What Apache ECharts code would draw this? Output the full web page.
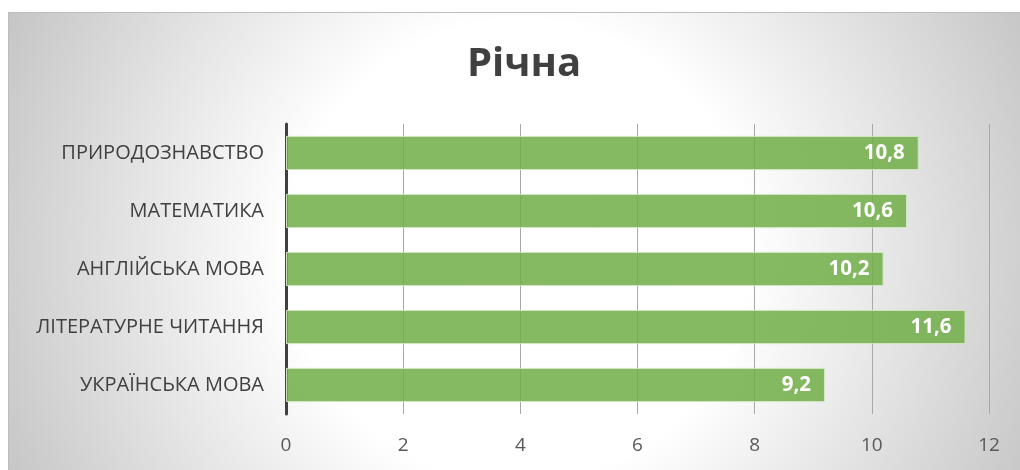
<!DOCTYPE html>
<html>
<head>
<meta charset="utf-8">
<script src="https://cdn.jsdelivr.net/npm/echarts@6/dist/echarts.min.js"></script>
<style>
html,body{margin:0;padding:0;background:#fff;}
#bg{position:absolute;left:8px;top:12px;width:1020px;height:470px;border-top:1px solid #bdbdbd;border-left:1px solid #bdbdbd;
background:radial-gradient(circle 560px at 510px 238px,#ffffff 0px,#ffffff 230px,#c6c6c6 560px);}
#chart{position:absolute;left:0;top:0;width:1020px;height:470px;}
</style>
</head>
<body>
<div id="bg"></div>
<div id="chart"></div>
<script>
const title = 'Річна';
const categories = ['УКРАЇНСЬКА МОВА', 'ЛІТЕРАТУРНЕ ЧИТАННЯ', 'АНГЛІЙСЬКА МОВА', 'МАТЕМАТИКА', 'ПРИРОДОЗНАВСТВО'];
const values = [9.2, 11.6, 10.2, 10.6, 10.8];
const xMin = 0, xMax = 12, xStep = 2;

const chart = echarts.init(document.getElementById('chart'), null, {renderer: 'canvas'});
chart.setOption({
  backgroundColor: 'transparent',
  animation: false,
  title: {
    text: title, left: 462, top: 40,
    textStyle: {fontFamily: 'Open Sans', fontSize: 40, fontWeight: 'bold', color: '#404040'}
  },
  grid: {left: 286, right: 31, top: 124, bottom: 56, containLabel: false},
  xAxis: {
    type: 'value', min: xMin, max: xMax, interval: xStep,
    axisLine: {show: false}, axisTick: {show: false},
    axisLabel: {fontFamily: 'Open Sans', fontSize: 19, color: '#595959', margin: 22},
    splitLine: {show: true, lineStyle: {color: '#a8a8a8', width: 1}}
  },
  yAxis: {
    type: 'category', data: categories,
    axisLine: {show: true, lineStyle: {color: '#404040', width: 3}},
    axisTick: {show: false},
    axisLabel: {fontFamily: 'Open Sans', fontSize: 20, color: '#404040', margin: 22}
  },
  series: [{
    type: 'bar', data: values, barCategoryGap: '41%',
    itemStyle: {color: 'rgba(112,173,71,0.85)', borderColor: '#d2e6c4', borderWidth: 1},
    label: {
      show: true, position: 'insideRight', distance: 14,
      fontFamily: 'Open Sans', fontSize: 20.5, fontWeight: 'bold', color: '#ffffff',
      formatter: p => String(p.value).replace('.', ',')
    }
  }]
});
</script>
</body>
</html>
